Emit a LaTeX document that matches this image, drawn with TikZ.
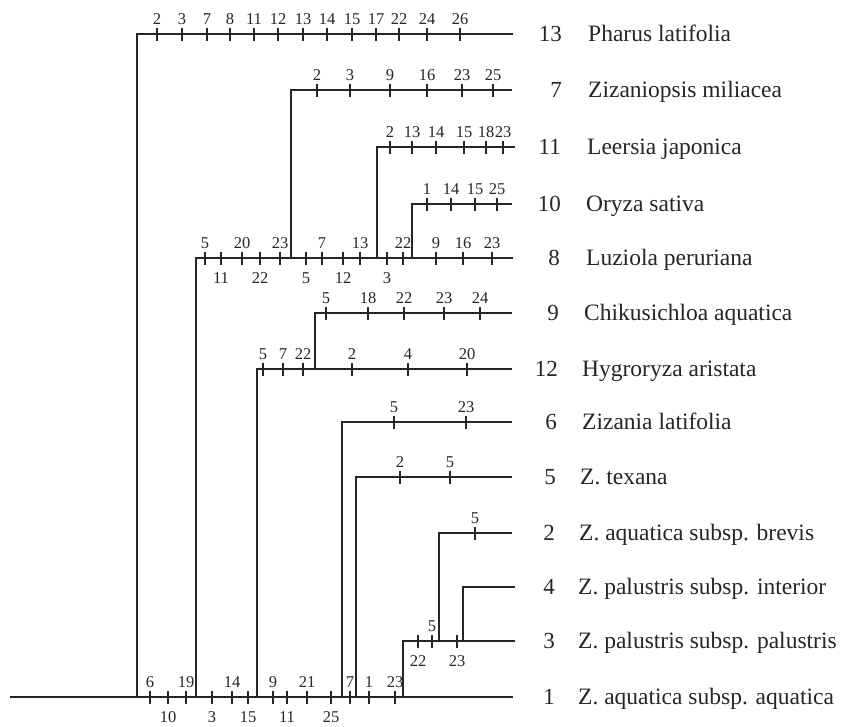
\documentclass[tikz,border=0pt]{standalone}
\usepackage{fontspec}
\setmainfont{Liberation Serif}
\newcommand\ticksA[3]{%
  \foreach \x/\l [count=\i] in {#3} {
    \draw[tickmark] (\x,#2-6.5) -- (\x,#2+6.5);
    \node[tlab,anchor=base] (#1a\i) at (\x,#2-10) {\l};
  }}
\newcommand\ticksB[3]{%
  \foreach \x/\l [count=\i] in {#3} {
    \draw[tickmark] (\x,#2-6.5) -- (\x,#2+6.5);
    \node[tlab,anchor=north] (#1b\i) at (\x,#2+14) {\l};
  }}
\begin{document}
\begin{tikzpicture}[x=1pt,y=-1pt,
  branch/.style={line width=2.8pt,line join=miter,color=black!85},
  tickmark/.style={line width=1.6pt,color=black!85},
  tlab/.style={inner sep=0pt,font=\fontsize{16.5}{18}\selectfont,text=black!85},
  num/.style={inner sep=0pt,font=\fontsize{23}{26}\selectfont,text=black!85},
  taxon/.style={inner sep=0pt,font=\fontsize{23.5}{26}\selectfont,text=black!85}]
\fill[white] (0,0) rectangle (841,726);
\useasboundingbox (0,0) rectangle (841,726);

% coordinates: root, junctions, leaf ends
\coordinate (r0) at (10,697);
\coordinate (e1) at (513,697);
\coordinate (j13) at (137,697);  \coordinate (e13) at (513,34);
\coordinate (j8)  at (196,697);  \coordinate (e8)  at (513,258);
\coordinate (j7)  at (291,258);  \coordinate (e7)  at (512,90);
\coordinate (j11) at (377,258);  \coordinate (e11) at (515,147);
\coordinate (j10) at (412,258);  \coordinate (e10) at (512,204);
\coordinate (j12) at (257,697);  \coordinate (e12) at (512,369);
\coordinate (j9)  at (315,369);  \coordinate (e9)  at (512,313);
\coordinate (j6)  at (342,697);  \coordinate (e6)  at (512,422);
\coordinate (j5)  at (356,697);  \coordinate (e5)  at (512,477);
\coordinate (j3)  at (403,697);  \coordinate (e3)  at (515,641);
\coordinate (j2)  at (439,641);  \coordinate (e2)  at (512,533);
\coordinate (j4)  at (463,641);  \coordinate (e4)  at (515,587);

% branches
\draw[branch] (r0) -- (e1);
\foreach \n in {13,8,7,11,10,12,9,6,5,3,2,4}{
  \draw[branch] (j\n) |- (e\n);
}

% character-state ticks
\ticksA{p13}{34}{157/2,182/3,207/7,230/8,254/11,278/12,303/13,327/14,352/15,376/17,399/22,427/24,460/26}
\ticksA{p7}{90}{317/2,350/3,390/9,427/16,462/23,493/25}
\ticksA{p11}{147}{390/2,412/13,436/14,464/15,486/18,503/23}
\ticksA{p10}{204}{427/1,451/14,475/15,497/25}
\ticksA{p8}{258}{205/5,242/20,280/23,322/7,360/13,403/22,436/9,463/16,492/23}
\ticksB{p8}{258}{221/11,260/22,306/5,343/12,387/3}
\ticksA{p9}{313}{326/5,368/18,404/22,444/23,480/24}
\ticksA{p12}{369}{263/5,283/7,303/22,352/2,408/4,467/20}
\ticksA{p6}{422}{394/5,466/23}
\ticksA{p5}{477}{400/2,450/5}
\ticksA{p2}{533}{475/5}
\ticksA{p3}{641}{432/5}
\ticksB{p3}{641}{418/22,457/23}
\ticksA{p1}{697}{150/6,186/19,232/14,273/9,307/21,350/7,369/1,395/23}
\ticksB{p1}{697}{168/10,212/3,248/15,287/11,331/25}

% taxon labels
\foreach \n/\y/\nx/\tx/\t in {
  13/34/562/588/Pharus latifolia,
  7/90/562/588/Zizaniopsis miliacea,
  11/147/561/587/Leersia japonica,
  10/204/561/586/Oryza sativa,
  8/258/560/586/Luziola peruriana,
  9/313/559/584/Chikusichloa aquatica,
  12/369/558/582/Hygroryza aristata,
  6/422/557/582/Zizania latifolia,
  5/477/556/580/Z. texana,
  2/533/555/579/Z. aquatica subsp. brevis,
  4/587/555/578/Z. palustris subsp. interior,
  3/641/555/578/Z. palustris subsp. palustris,
  1/697/555/578/Z. aquatica subsp. aquatica}{
  \node[num,anchor=base east] (n\n) at (\nx,\y+7.5) {\n};
  \node[taxon,anchor=base west] (s\n) at (\tx,\y+7.5) {\t};
}
\end{tikzpicture}
\end{document}
